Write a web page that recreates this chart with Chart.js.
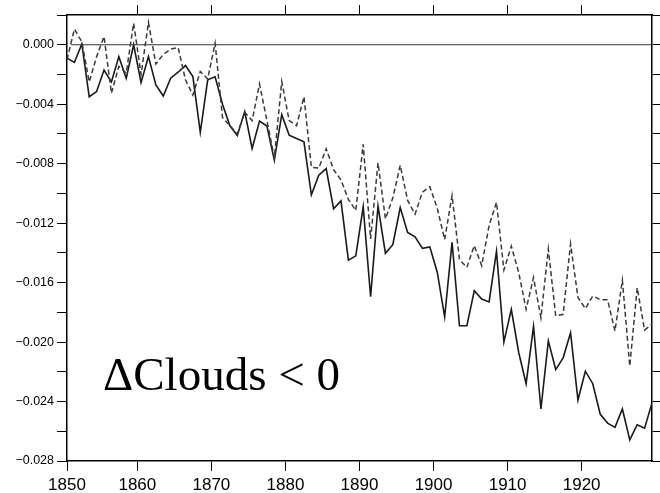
<!DOCTYPE html>
<html>
<head>
<meta charset="utf-8">
<script src="https://cdn.jsdelivr.net/npm/chart.js@4/dist/chart.umd.min.js"></script>
<style>
  html, body { margin: 0; padding: 0; background: #fff; }
  #wrap { position: relative; width: 660px; height: 493px; }
  #note {
    position: absolute; left: 103px; top: 347px;
    font-family: "Liberation Serif", "Times New Roman", serif;
    font-size: 47px; color: #000; white-space: nowrap;
  }
</style>
</head>
<body>
<div id="wrap">
  <canvas id="cloudChart" width="660" height="493"></canvas>
  <div id="note">&Delta;Clouds &lt; 0</div>
</div>
<script>
// Annual values 1850-1929 (units of 0.001)
const years = Array.from({ length: 80 }, (_, i) => 1850 + i);
const solidVals = [
  -0.90, -1.19, 0.05, -3.50, -3.15, -1.70, -2.50, -0.80, -2.25, 0.00,
  -2.55, -0.80, -2.70, -3.45, -2.25, -1.85, -1.40, -2.14, -5.90, -2.36,
  -2.16, -4.00, -5.45, -6.10, -4.50, -6.98, -5.14, -5.47, -7.77, -4.70,
  -6.08, -6.30, -6.53, -10.10, -8.78, -8.33, -11.03, -10.50, -14.50, -14.20,
  -10.90, -16.95, -10.85, -14.03, -13.45, -10.95, -12.63, -12.92, -13.70, -13.60,
  -15.30, -18.30, -13.29, -18.90, -18.90, -16.55, -17.11, -17.30, -13.90, -20.00,
  -17.80, -20.70, -22.80, -18.95, -24.50, -19.92, -21.85, -21.06, -19.37, -23.90,
  -21.96, -22.80, -24.84, -25.45, -25.74, -24.50, -26.58, -25.56, -25.79, -24.10
];
const dashedVals = [
  -1.00, 1.05, 0.20, -2.50, -0.80, 0.55, -3.26, -1.46, -1.90, 1.45,
  -2.00, 1.50, -1.30, -0.65, -0.30, -0.18, -2.36, -3.38, -1.80, -2.30,
  0.11, -4.90, -5.45, -6.00, -4.55, -5.10, -2.64, -5.10, -7.60, -2.48,
  -5.10, -5.45, -3.50, -8.24, -8.30, -7.00, -8.40, -9.10, -10.40, -11.15,
  -6.70, -13.06, -7.95, -11.71, -10.30, -8.11, -10.47, -11.40, -9.91, -9.55,
  -11.00, -13.10, -10.14, -14.45, -14.98, -13.51, -14.86, -12.16, -10.60, -15.15,
  -13.55, -15.32, -17.79, -15.66, -18.36, -13.74, -18.24, -18.13, -13.40, -17.00,
  -17.75, -16.90, -17.15, -17.16, -19.26, -15.85, -21.62, -16.35, -19.20, -18.80
];
const xTickYears = [1850, 1860, 1870, 1880, 1890, 1900, 1910, 1920];
const yTicks = [0.002, 0, -0.002, -0.004, -0.006, -0.008, -0.010, -0.012, -0.014,
  -0.016, -0.018, -0.020, -0.022, -0.024, -0.026, -0.028];
const yLabelled = [0, -0.004, -0.008, -0.012, -0.016, -0.020, -0.024, -0.028];
const xMin = 1850.5, xMax = 1929.5;

// annual means sit at mid-year
const toPoints = (vals) => vals.map((v, i) => ({ x: years[i] + 0.5, y: v / 1000 }));

const fmtY = (v) => (v < -1e-9 ? "\u2212" : "") + Math.abs(v).toFixed(3);
const isLabelled = (v) => yLabelled.some((t) => Math.abs(t - v) < 1e-7);

const tickGrid = { drawOnChartArea: false, drawTicks: true, tickLength: 10, color: "#000", lineWidth: 1 };
const frame = { display: true, color: "#000", width: 1.5 };

const ctx = document.getElementById("cloudChart").getContext("2d");
new Chart(ctx, {
  type: "line",
  data: {
    datasets: [
      {
        label: "zero",
        data: [{ x: 1851, y: 0 }, { x: xMax, y: 0 }],
        borderColor: "#333",
        borderWidth: 1.2,
        pointRadius: 0,
      },
      {
        label: "dashed",
        data: toPoints(dashedVals),
        borderColor: "#3a3a3a",
        borderWidth: 1.5,
        borderDash: [5, 3],
        pointRadius: 0,
      },
      {
        label: "solid",
        data: toPoints(solidVals),
        borderColor: "#1a1a1a",
        borderWidth: 1.6,
        pointRadius: 0,
      },
    ],
  },
  options: {
    responsive: false,
    animation: false,
    devicePixelRatio: 1,
    layout: { padding: 0 },
    plugins: { legend: { display: false }, tooltip: { enabled: false } },
    scales: {
      x: {
        type: "linear",
        position: "bottom",
        min: xMin,
        max: xMax,
        afterBuildTicks: (s) => {
          s.ticks = xTickYears.map((y) => ({ value: Math.max(y, xMin) }));
        },
        afterFit: (s) => { s.height = 32; },
        grid: tickGrid,
        border: frame,
        ticks: {
          autoSkip: false,
          maxRotation: 0,
          padding: 4,
          color: "#000",
          font: { family: "Liberation Sans, Arial, sans-serif", size: 17 },
          callback: (v) => String(Math.floor(v)),
        },
      },
      x2: {
        type: "linear",
        position: "top",
        min: xMin,
        max: xMax,
        afterBuildTicks: (s) => {
          s.ticks = xTickYears.filter((y) => y > xMin).map((y) => ({ value: y }));
        },
        afterFit: (s) => { s.height = 15; },
        grid: tickGrid,
        border: frame,
        ticks: { display: false },
      },
      y: {
        position: "left",
        min: -0.028,
        max: 0.002,
        afterBuildTicks: (s) => { s.ticks = yTicks.map((v) => ({ value: v })); },
        afterFit: (s) => { s.width = 67; },
        grid: tickGrid,
        border: frame,
        ticks: {
          padding: 3,
          color: "#000",
          font: { family: "Liberation Sans, Arial, sans-serif", size: 12.5 },
          callback: (v) => (isLabelled(v) ? fmtY(v) : ""),
        },
      },
      y2: {
        position: "right",
        min: -0.028,
        max: 0.002,
        afterBuildTicks: (s) => { s.ticks = yTicks.map((v) => ({ value: v })); },
        afterFit: (s) => { s.width = 8; },
        grid: tickGrid,
        border: frame,
        ticks: { display: false },
      },
    },
  },
});
</script>
</body>
</html>
